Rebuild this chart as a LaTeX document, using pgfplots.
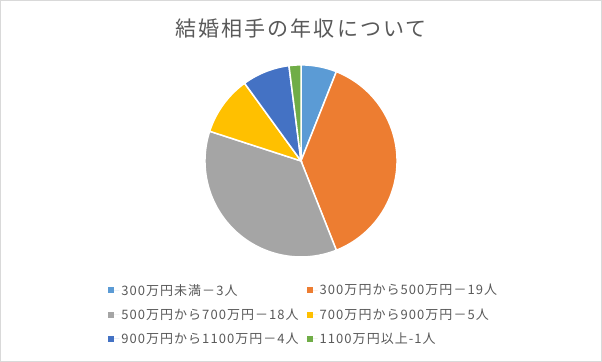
\documentclass[border=0pt]{standalone}
\usepackage{pgfplots}
\pgfplotsset{compat=1.18}
\usepackage{fontspec}
\setmainfont{Noto Sans CJK JP}
\newfontfamily\titlefont[LetterSpace=10]{Noto Sans CJK JP}
\newfontfamily\legfont[LetterSpace=8]{Noto Sans CJK JP}
\definecolor{c1}{HTML}{5B9BD5}
\definecolor{c2}{HTML}{ED7D31}
\definecolor{c3}{HTML}{A5A5A5}
\definecolor{c4}{HTML}{FFC000}
\definecolor{c5}{HTML}{4472C4}
\definecolor{c6}{HTML}{70AD47}
\definecolor{txt}{HTML}{595959}
\definecolor{frame}{HTML}{D9D9D9}
\begin{document}
\begin{tikzpicture}[x=1pt,y=1pt]
\draw[draw=frame, line width=0.75pt] (0.5,0.5) rectangle (601.5,361.5);
\node[text=txt, font=\titlefont\fontsize{21}{24}\selectfont] at (301,333) {結婚相手の年収について};
% values: 3, 19, 18, 5, 4, 1 (total 50); slices clockwise from top
\begin{axis}[at={(301pt,201pt)}, anchor=center, x=96pt, y=96pt, scale only axis,
  xmin=-1, xmax=1, ymin=-1, ymax=1, hide axis, clip=false,
  legend columns=2, legend cell align=left,
  legend style={draw=none, fill=none, at={(-0.52,-0.12)}, anchor=north west,
    font=\legfont\fontsize{13}{15}\selectfont, text=txt, row sep=8pt,
    /tikz/every even column/.append style={column sep=6pt}},
  legend image code/.code={\fill[#1, draw=none] (0pt,-3pt) rectangle (6pt,3pt);
    \path[draw=none] (0pt,0pt) -- (11pt,0pt);},
  every axis plot/.append style={draw=white, line width=1.5pt, samples=60, smooth=false}]
\addplot[fill=c1, domain=68.4:90] ({cos(x)},{sin(x)}) -- (axis cs:0,0) -- cycle;
\addlegendentry{300万円未満－3人}
\addplot[fill=c2, domain=-68.4:68.4] ({cos(x)},{sin(x)}) -- (axis cs:0,0) -- cycle;
\addlegendentry{300万円から500万円－19人}
\addplot[fill=c3, domain=-198:-68.4] ({cos(x)},{sin(x)}) -- (axis cs:0,0) -- cycle;
\addlegendentry{500万円から700万円－18人}
\addplot[fill=c4, domain=-234:-198] ({cos(x)},{sin(x)}) -- (axis cs:0,0) -- cycle;
\addlegendentry{700万円から900万円－5人}
\addplot[fill=c5, domain=-262.8:-234] ({cos(x)},{sin(x)}) -- (axis cs:0,0) -- cycle;
\addlegendentry{900万円から1100万円－4人}
\addplot[fill=c6, domain=-270:-262.8] ({cos(x)},{sin(x)}) -- (axis cs:0,0) -- cycle;
\addlegendentry{1100万円以上-1人}
\end{axis}
\end{tikzpicture}
\end{document}
